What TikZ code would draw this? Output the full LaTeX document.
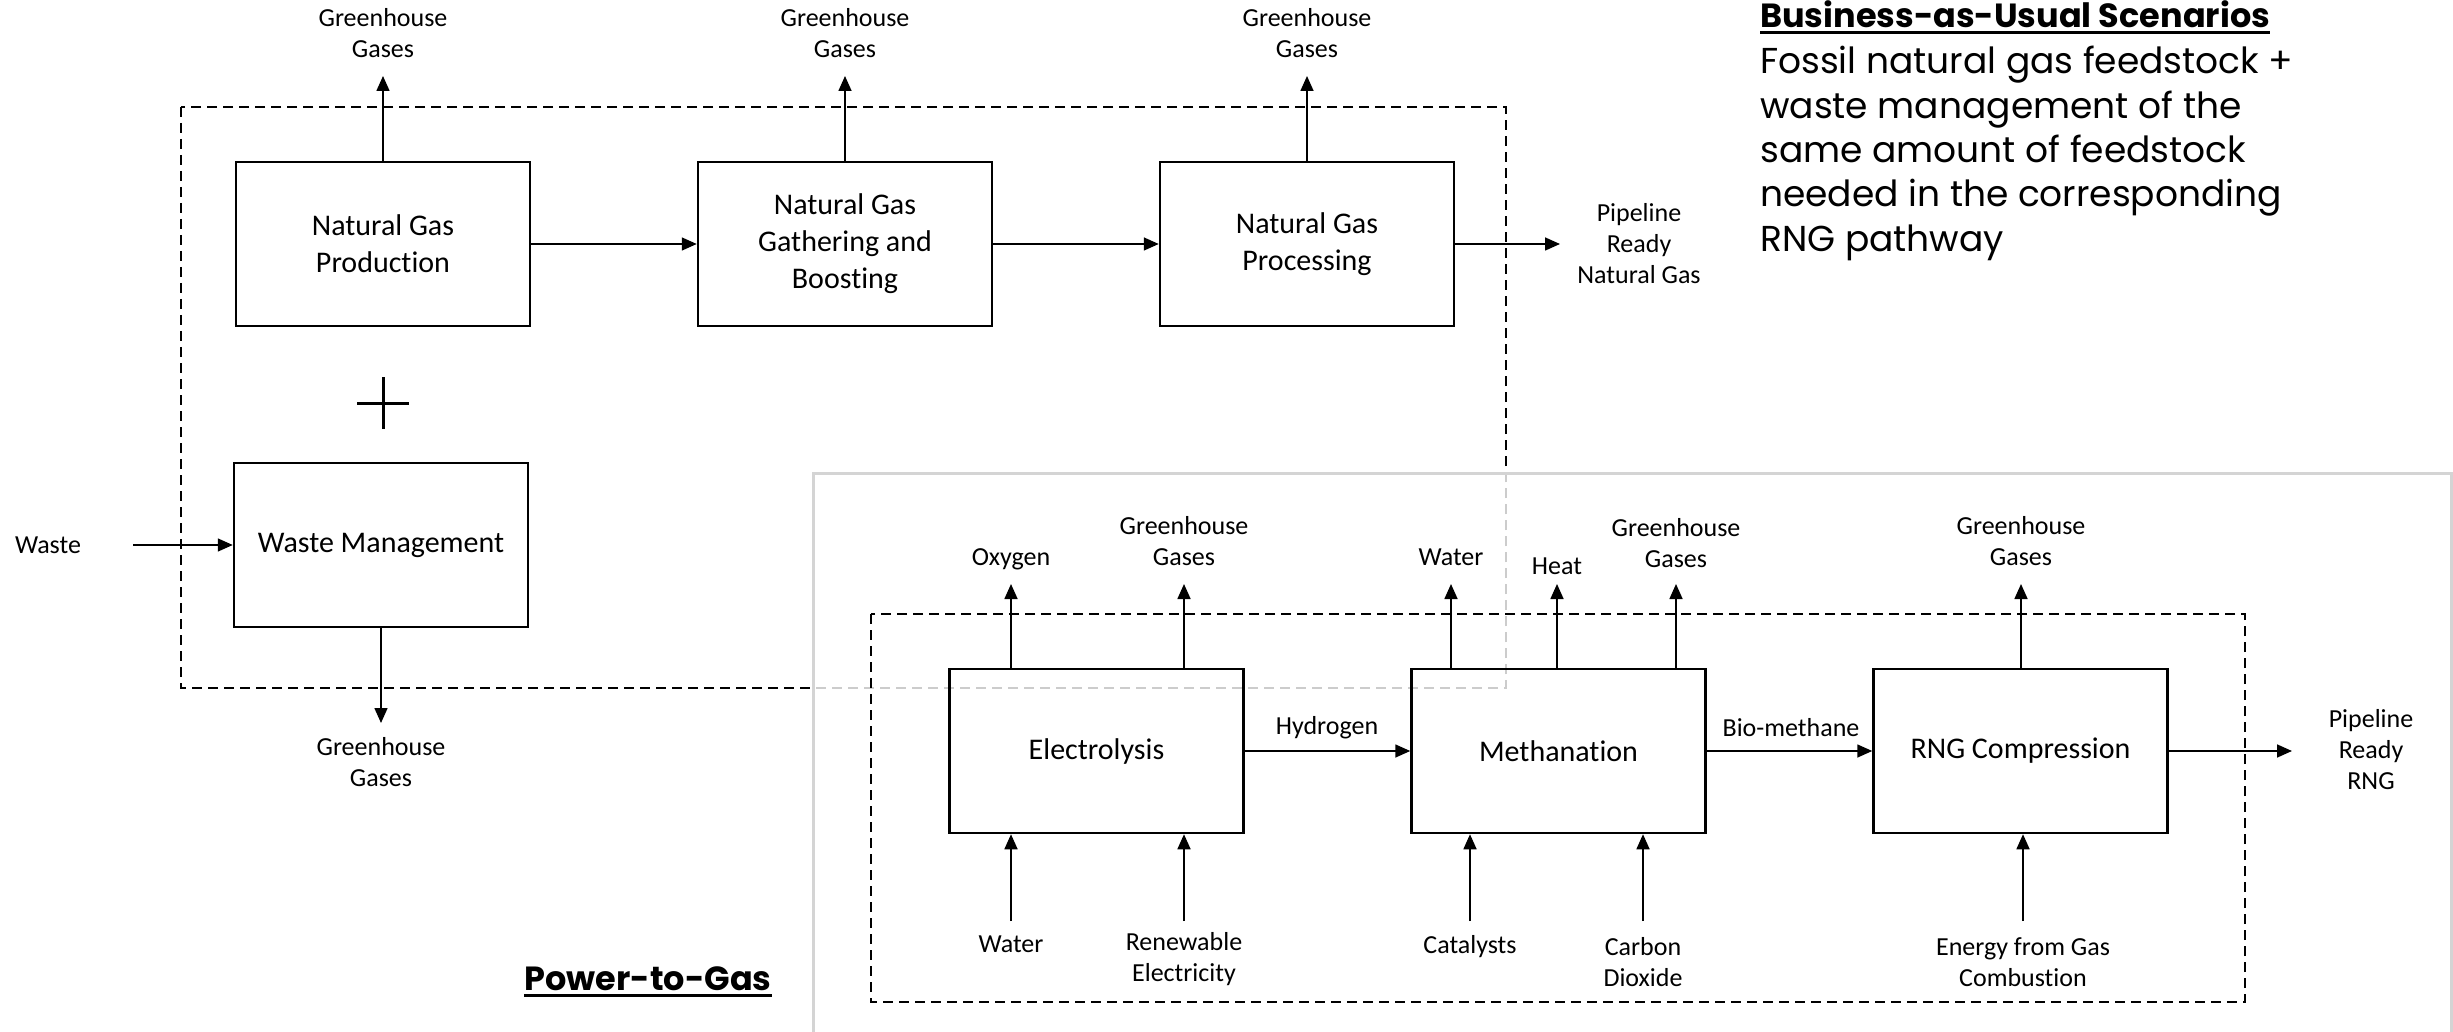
\documentclass[tikz,border=0pt]{standalone}
\usepackage{fontspec}
\setmainfont[Ligatures=NoCommon]{Carlito}
\newfontfamily\gothic{Poppins}
\usetikzlibrary{arrows.meta,calc}
\begin{document}
\begin{tikzpicture}[x=1pt,y=-1pt,
 proc/.style={draw,line width=2.5pt,minimum width=294pt,minimum height=164pt,align=center,font=\fontsize{30}{37}\selectfont,inner sep=0pt},
 lbl/.style={align=center,font=\fontsize{26}{31}\selectfont,inner sep=0pt},
 arr/.style={line width=1.6pt,-{Triangle[length=15pt,width=13pt]}},
 bound/.style={dash pattern=on 10pt off 6pt,line width=2.5pt},
 ttl/.style={inner sep=0pt,font=\gothic\bfseries\fontsize{33.5}{40}\selectfont},
 uline/.style={line width=3pt}
]
\useasboundingbox (0,0) rectangle (2453,1032);
% ---------- Business-as-usual ----------
\node[proc] (ngp) at (383,244) {Natural Gas\\Production};
\node[proc] (ngb) at (845,244) {Natural Gas\\Gathering and\\Boosting};
\node[proc] (ngq) at (1307,244) {Natural Gas\\Processing};
\node[proc] (wm) at (381,545) {Waste Management};
\node[lbl] (g1) at (383,33) {Greenhouse\\Gases};
\node[lbl] (g2) at (845,33) {Greenhouse\\Gases};
\node[lbl] (g3) at (1307,33) {Greenhouse\\Gases};
\coordinate (g1t) at (383,76);
\coordinate (g2t) at (845,76);
\coordinate (g3t) at (1307,76);
\draw[arr] (ngp.north) -- (g1t);
\draw[arr] (ngb.north) -- (g2t);
\draw[arr] (ngq.north) -- (g3t);
\draw[arr] (ngp.east) -- (ngb.west);
\draw[arr] (ngb.east) -- (ngq.west);
\node[lbl] (pn) at (1639,244) {Pipeline\\Ready\\Natural Gas};
\coordinate (pnt) at (1560,244);
\draw[arr] (ngq.east) -- (pnt);
\node[lbl] (waste) at (48,545) {Waste};
\coordinate (ws) at (133,545);
\draw[arr] (ws) -- (wm.west);
\node[lbl] (g4) at (381,762) {Greenhouse\\Gases};
\coordinate (g4t) at (381,723);
\draw[arr] (wm.south) -- (g4t);
\draw[line width=3pt] (357,403) -- (409,403) (383,377) -- (383,429);
\draw[bound] (181,107) rectangle (1506,688);
% ---------- translucent panel ----------
\draw[draw=black!17,line width=3pt,fill=white,fill opacity=0.8] (813,473) rectangle (2451.5,1045);
% ---------- Power-to-Gas ----------
\draw[bound] (871,614) rectangle (2245,1002);
\node[proc] (el) at (1096.5,751) {Electrolysis};
\node[proc] (me) at (1558.5,751) {Methanation};
\node[proc] (rc) at (2020.5,751) {RNG Compression};
\coordinate (ox) at (1011,584);
\coordinate (ge) at (1184,584);
\coordinate (wa) at (1451,584);
\coordinate (he) at (1557,584);
\coordinate (gm) at (1676,584);
\coordinate (gr) at (2021,584);
\node[lbl] (oxl) at (1011,559) {Oxygen};
\node[lbl] (gel) at (1184,541.5) {Greenhouse\\Gases};
\node[lbl] (wal) at (1451,557) {Water};
\node[lbl] (hel) at (1557,566) {Heat};
\node[lbl] (gml) at (1676,543) {Greenhouse\\Gases};
\node[lbl] (grl) at (2021,541) {Greenhouse\\Gases};
\draw[arr] (el.north -| ox) -- (ox);
\draw[arr] (el.north -| ge) -- (ge);
\draw[arr] (me.north -| wa) -- (wa);
\draw[arr] (me.north -| he) -- (he);
\draw[arr] (me.north -| gm) -- (gm);
\draw[arr] (rc.north -| gr) -- (gr);
\coordinate (wi) at (1011,921);
\coordinate (re) at (1184,921);
\coordinate (ca) at (1470,921);
\coordinate (co) at (1643,921);
\coordinate (en) at (2023,921);
\node[lbl] (wil) at (1011,944) {Water};
\node[lbl] (rel) at (1184,959.5) {Renewable\\Electricity};
\node[lbl] (cal) at (1470,947) {Catalysts};
\node[lbl] (col) at (1643,962) {Carbon\\Dioxide};
\node[lbl] (enl) at (2023,962) {Energy from Gas\\Combustion};
\draw[arr] (wi) -- (el.south -| wi);
\draw[arr] (re) -- (el.south -| re);
\draw[arr] (ca) -- (me.south -| ca);
\draw[arr] (co) -- (me.south -| co);
\draw[arr] (en) -- (rc.south -| en);
\draw[arr] (el.east) -- (me.west);
\draw[arr] (me.east) -- (rc.west);
\node[lbl] (h2) at (1327,728) {Hydrogen};
\node[lbl] (bm) at (1791,728) {Bio-methane};
\node[lbl] (pr) at (2371,750) {Pipeline\\Ready\\RNG};
\coordinate (prt) at (2292,751);
\draw[arr] (rc.east) -- (prt);
% ---------- titles ----------
\node[ttl,anchor=base] (p2g) at (648,990) {Power-to-Gas};
\draw[uline] ([yshift=-5pt]p2g.base west) -- ([yshift=-5pt]p2g.base east);
\node[ttl,anchor=base west] (bau) at (1760,28) {Business-as-Usual Scenarios};
\draw[uline] ([yshift=-5pt]bau.base west) -- ([yshift=-5pt]bau.base east);
\node[anchor=north west,align=left,inner sep=0pt,font=\gothic\fontsize{36}{44.4}\selectfont] (baut) at (1760,46) {Fossil natural gas feedstock +\\waste management of the\\same amount of feedstock\\needed in the corresponding\\RNG pathway};
\end{tikzpicture}
\end{document}
